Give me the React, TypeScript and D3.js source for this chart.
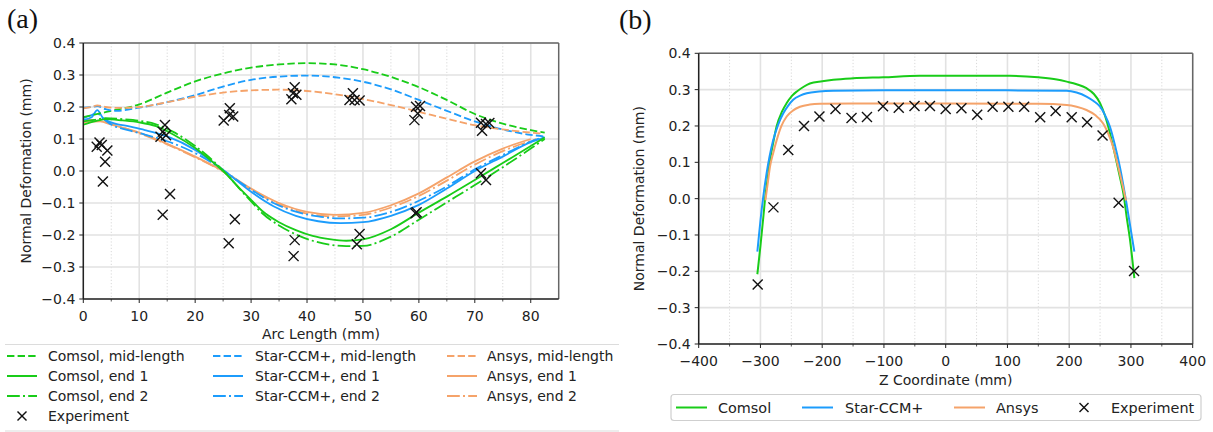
import React from "react";
import * as d3 from "d3";

// ---------- colours ----------
const GREEN = "#19cc19";
const BLUE = "#1c9cfc";
const ORANGE = "#f5a36a";

// ---------- panel (a) data: Arc length (mm) vs normal deformation (mm) ----------
const comsolMidX = [0, 2, 5, 10, 15, 20, 25, 30, 35, 40, 45, 50, 55, 60, 65, 70, 75, 80, 82.5];
const comsolMidY = [0.168, 0.176, 0.188, 0.208, 0.245, 0.28, 0.305, 0.323, 0.333, 0.337, 0.333, 0.318, 0.294, 0.262, 0.222, 0.178, 0.148, 0.128, 0.12];

const starMidX = [0, 1.5, 2.5, 4, 6, 10, 15, 20, 25, 30, 35, 40, 45, 50, 55, 60, 65, 70, 75, 80, 82.5];
const starMidY = [0.198, 0.2, 0.203, 0.193, 0.188, 0.198, 0.215, 0.237, 0.264, 0.285, 0.295, 0.298, 0.293, 0.279, 0.255, 0.222, 0.188, 0.155, 0.13, 0.113, 0.108];

const ansysMidX = [0, 1.5, 2.5, 4, 6, 10, 15, 20, 25, 30, 35, 40, 45, 50, 55, 60, 65, 70, 75, 80, 82];
const ansysMidY = [0.196, 0.2, 0.205, 0.2, 0.197, 0.2, 0.215, 0.232, 0.245, 0.252, 0.254, 0.25, 0.24, 0.225, 0.206, 0.185, 0.163, 0.143, 0.13, 0.12, 0.117];

const comsolEnd1X = [0, 2, 4, 7, 10, 13, 16, 20, 23, 25, 28, 30, 32, 35, 38, 41, 44, 47, 50, 55, 60, 65, 70, 75, 80, 82.5];
const comsolEnd1Y = [0.145, 0.155, 0.162, 0.158, 0.152, 0.14, 0.115, 0.072, 0.03, 0.0, -0.055, -0.09, -0.125, -0.16, -0.185, -0.203, -0.213, -0.218, -0.214, -0.182, -0.13, -0.08, -0.028, 0.025, 0.078, 0.105];

const comsolEnd2X = [0, 2, 4, 7, 10, 13, 16, 20, 23, 25, 28, 30, 32, 35, 38, 41, 44, 47, 50, 55, 60, 65, 70, 75, 80, 82.5];
const comsolEnd2Y = [0.155, 0.16, 0.165, 0.162, 0.157, 0.146, 0.123, 0.078, 0.035, 0.002, -0.057, -0.095, -0.132, -0.17, -0.198, -0.218, -0.23, -0.235, -0.234, -0.205, -0.152, -0.098, -0.044, 0.012, 0.07, 0.1];

const starEnd1X = [0, 1.5, 2.5, 3.5, 5, 8, 11, 15, 20, 23, 26, 30, 34, 38, 42, 46, 50, 55, 60, 65, 70, 75, 80, 82.5];
const starEnd1Y = [0.16, 0.168, 0.19, 0.166, 0.152, 0.14, 0.128, 0.108, 0.066, 0.03, -0.01, -0.065, -0.11, -0.14, -0.157, -0.163, -0.16, -0.14, -0.106, -0.055, 0.0, 0.045, 0.09, 0.105];

const starEnd2X = [0, 1.5, 2.5, 3.5, 5, 8, 11, 15, 20, 23, 26, 30, 34, 38, 42, 46, 50, 55, 60, 65, 70, 75, 80, 82.5];
const starEnd2Y = [0.165, 0.175, 0.18, 0.165, 0.145, 0.128, 0.114, 0.093, 0.056, 0.026, -0.01, -0.058, -0.1, -0.127, -0.142, -0.148, -0.146, -0.128, -0.093, -0.048, 0.005, 0.05, 0.092, 0.108];

const ansysEnd1X = [0, 3, 5, 10, 15, 20, 25, 30, 35, 40, 45, 50, 55, 60, 65, 70, 75, 80];
const ansysEnd1Y = [0.152, 0.155, 0.145, 0.12, 0.085, 0.045, 0.0, -0.055, -0.1, -0.128, -0.137, -0.131, -0.107, -0.07, -0.02, 0.03, 0.07, 0.1];

const ansysEnd2X = [0, 3, 5, 10, 15, 20, 25, 30, 35, 40, 45, 50, 55, 60, 65, 70, 75, 81];
const ansysEnd2Y = [0.16, 0.16, 0.148, 0.118, 0.083, 0.043, -0.002, -0.058, -0.104, -0.133, -0.142, -0.137, -0.114, -0.078, -0.03, 0.02, 0.062, 0.1];

const expArcX = [2.4, 2.9, 3.3, 4.3, 3.9, 3.5, 14.6, 14.2, 13.8, 14.8, 15.5, 14.2, 26.2, 26.1, 26.8, 25.1, 27.1, 26.0, 37.8, 37.5, 38.1, 37.2, 37.8, 37.6, 48.2, 47.6, 48.5, 49.4, 49.4, 48.9, 59.5, 60.2, 59.8, 59.2, 59.4, 59.6, 71.1, 72.0, 71.3, 72.6, 71.1, 72.0];
const expArcY = [0.076, 0.089, 0.081, 0.064, 0.029, -0.033, 0.144, 0.123, 0.107, 0.112, -0.072, -0.137, 0.196, 0.175, 0.17, 0.158, -0.151, -0.226, 0.262, 0.243, 0.238, 0.224, -0.216, -0.266, 0.243, 0.222, 0.222, 0.22, -0.197, -0.229, 0.201, 0.203, 0.18, 0.159, -0.132, -0.129, 0.151, 0.147, 0.126, 0.15, -0.007, -0.028];

// ---------- panel (b) data: Z coordinate (mm) vs normal deformation (mm) ----------
const comsolZX = [-305, -300, -295, -292.5, -288, -284.5, -280, -274, -265, -257.5, -249, -241, -230, -220, -200, -182, -150, -101, -42, 0, 50, 104, 150, 180, 196, 212, 228, 240, 250, 258, 266, 274, 282, 288, 293, 299, 305.5];
const comsolZY = [-0.208, -0.13, -0.045, 0.0, 0.06, 0.107, 0.148, 0.198, 0.24, 0.263, 0.283, 0.295, 0.308, 0.317, 0.323, 0.327, 0.331, 0.334, 0.338, 0.338, 0.338, 0.338, 0.334, 0.328, 0.322, 0.315, 0.304, 0.288, 0.263, 0.228, 0.18, 0.122, 0.06, 0.012, -0.05, -0.12, -0.219];

const starZX = [-305, -298, -290, -279.5, -271, -263, -255, -247, -235, -225, -205, -182, -100, 0, 100, 196, 212, 228, 240, 250, 258, 266, 274, 282, 293, 305.5];
const starZY = [-0.146, -0.03, 0.07, 0.16, 0.205, 0.235, 0.256, 0.272, 0.284, 0.29, 0.295, 0.297, 0.298, 0.298, 0.298, 0.297, 0.292, 0.281, 0.268, 0.253, 0.23, 0.198, 0.148, 0.088, -0.015, -0.146];

const ansysZX = [-292, -288, -284.5, -279, -273.7, -266, -257.5, -247, -236, -220, -203.5, -150, 0, 150, 196, 212, 228, 242, 255, 263, 271, 279, 287, 292];
const ansysZY = [-0.005, 0.045, 0.088, 0.128, 0.161, 0.2, 0.226, 0.243, 0.253, 0.259, 0.261, 0.262, 0.262, 0.261, 0.258, 0.253, 0.244, 0.23, 0.207, 0.18, 0.143, 0.09, 0.033, -0.005];

const expZX = [-304.5, -279, -255, -229.5, -204.5, -178.5, -152.5, -127.5, -101.5, -76, -50.5, -25.5, 0, 25.5, 51, 76, 101.5, 127, 153, 178, 204, 229, 254, 280, 305];
const expZY = [-0.236, -0.024, 0.134, 0.2, 0.226, 0.247, 0.222, 0.225, 0.254, 0.25, 0.255, 0.255, 0.247, 0.249, 0.231, 0.253, 0.253, 0.253, 0.224, 0.241, 0.224, 0.21, 0.174, -0.011, -0.199];

// ---------- ticks ----------
const yTicks = [-0.4, -0.3, -0.2, -0.1, 0.0, 0.1, 0.2, 0.3, 0.4];
const xTicksA = [0, 10, 20, 30, 40, 50, 60, 70, 80];
const xMinorA = [5, 15, 25, 35, 45, 55, 65, 75];
const xTicksB = [-400, -300, -200, -100, 0, 100, 200, 300, 400];
const xMinorB = [-350, -250, -150, -50, 50, 150, 250, 350];

const FONT = "'DejaVu Sans', sans-serif";
const DASHED = "7.4,3.2";
const DASHDOT = "12.8,3.2,2,3.2";

const fmtY = (v: number) => d3.format(".1f")(v).replace("-", "\u2212");
const fmtX = (v: number) => String(v).replace("-", "\u2212");

type Series = { xs: number[]; ys: number[]; color: string; dash?: string };

function zip(xs: number[], ys: number[]): [number, number][] {
  return xs.map((x, i) => [x, ys[i]]);
}

function Cross({ cx, cy, s = 5 }: { cx: number; cy: number; s?: number }) {
  return (
    <g stroke="#111" strokeWidth={1.4}>
      <line x1={cx - s} y1={cy - s} x2={cx + s} y2={cy + s} />
      <line x1={cx - s} y1={cy + s} x2={cx + s} y2={cy - s} />
    </g>
  );
}

function Panel(props: {
  id: string;
  x: d3.ScaleLinear<number, number>;
  y: d3.ScaleLinear<number, number>;
  xTicks: number[];
  xMinor: number[];
  series: Series[];
  expX: number[];
  expY: number[];
  xLabel: string;
  yLabelX: number;
  xLabelY: number;
  lw: number;
}) {
  const { id, x, y, xTicks, xMinor, series, expX, expY, xLabel, yLabelX, xLabelY, lw } = props;
  const [x0, x1] = x.range();
  const [y0, y1] = y.range(); // y0 bottom, y1 top
  const line = d3
    .line<[number, number]>()
    .x((d) => x(d[0]))
    .y((d) => y(d[1]))
    .curve(d3.curveMonotoneX);
  return (
    <g>
      <defs>
        <clipPath id={id}>
          <rect x={x0} y={y1} width={x1 - x0} height={y0 - y1} />
        </clipPath>
      </defs>
      {xMinor.map((t) => (
        <line key={"mg" + t} x1={x(t)} x2={x(t)} y1={y1} y2={y0} stroke="#d8d8d8" strokeWidth={1} strokeDasharray="1.2,2" />
      ))}
      {xTicks.map((t) => (
        <line key={"gx" + t} x1={x(t)} x2={x(t)} y1={y1} y2={y0} stroke="#e2e2e2" strokeWidth={1.6} />
      ))}
      {yTicks.map((t) => (
        <line key={"gy" + t} x1={x0} x2={x1} y1={y(t)} y2={y(t)} stroke="#e2e2e2" strokeWidth={1.6} />
      ))}
      <g clipPath={`url(#${id})`}>
        {series.map((s, i) => (
          <path
            key={i}
            d={line(zip(s.xs, s.ys)) || ""}
            fill="none"
            stroke={s.color}
            strokeWidth={lw}
            strokeDasharray={s.dash}
          />
        ))}
        {expX.map((v, i) => (
          <Cross key={"e" + i} cx={x(v)} cy={y(expY[i])} />
        ))}
      </g>
      <line x1={x0} x2={x1} y1={y1} y2={y1} stroke="#666" strokeWidth={1.5} />
      <line x1={x1} x2={x1} y1={y1} y2={y0} stroke="#666" strokeWidth={1.5} />
      <line x1={x0} x2={x0} y1={y1} y2={y0} stroke="#222" strokeWidth={1.5} />
      <line x1={x0} x2={x1} y1={y0} y2={y0} stroke="#222" strokeWidth={1.5} />
      {xTicks.map((t) => (
        <g key={"tx" + t}>
          <line x1={x(t)} x2={x(t)} y1={y0} y2={y0 + 4} stroke="#222" strokeWidth={1} />
          <text x={x(t)} y={y0 + 22} fontSize={14} fontFamily={FONT} textAnchor="middle" fill="#222">
            {fmtX(t)}
          </text>
        </g>
      ))}
      {xMinor.map((t) => (
        <line key={"mt" + t} x1={x(t)} x2={x(t)} y1={y0} y2={y0 + 2.5} stroke="#222" strokeWidth={0.8} />
      ))}
      {yTicks.map((t) => (
        <g key={"ty" + t}>
          <line x1={x0 - 4} x2={x0} y1={y(t)} y2={y(t)} stroke="#222" strokeWidth={1} />
          <text x={x0 - 8} y={y(t) + 5} fontSize={14} fontFamily={FONT} textAnchor="end" fill="#222">
            {fmtY(t)}
          </text>
        </g>
      ))}
      <text x={(x0 + x1) / 2} y={xLabelY} fontSize={14} fontFamily={FONT} textAnchor="middle" fill="#222">
        {xLabel}
      </text>
      <text
        transform={`translate(${yLabelX},${(y0 + y1) / 2}) rotate(-90)`}
        fontSize={14}
        fontFamily={FONT}
        textAnchor="middle"
        dominantBaseline="central"
        fill="#222"
      >
        Normal Deformation (mm)
      </text>
    </g>
  );
}

const legendALabels = [
  ["Comsol, mid-length", "Star-CCM+, mid-length", "Ansys, mid-length"],
  ["Comsol, end 1", "Star-CCM+, end 1", "Ansys, end 1"],
  ["Comsol, end 2", "Star-CCM+, end 2", "Ansys, end 2"],
];
const legendAColors = [GREEN, BLUE, ORANGE];
const legendADash = [DASHED, undefined, DASHDOT];
const legendBLabels = ["Comsol", "Star-CCM+", "Ansys"];
const legendBColors = [GREEN, BLUE, ORANGE];

export default function App() {
  const xA = d3.scaleLinear().domain([0, 85]).range([83.3, 558.7]);
  const yA = d3.scaleLinear().domain([-0.4, 0.4]).range([299, 43]);
  const xB = d3.scaleLinear().domain([-400, 400]).range([698.7, 1192.7]);
  const yB = d3.scaleLinear().domain([-0.4, 0.4]).range([344, 53.3]);

  const seriesA: Series[] = [
    { xs: ansysEnd2X, ys: ansysEnd2Y, color: ORANGE, dash: DASHDOT },
    { xs: ansysEnd1X, ys: ansysEnd1Y, color: ORANGE },
    { xs: starEnd2X, ys: starEnd2Y, color: BLUE, dash: DASHDOT },
    { xs: starEnd1X, ys: starEnd1Y, color: BLUE },
    { xs: comsolEnd2X, ys: comsolEnd2Y, color: GREEN, dash: DASHDOT },
    { xs: comsolEnd1X, ys: comsolEnd1Y, color: GREEN },
    { xs: comsolMidX, ys: comsolMidY, color: GREEN, dash: DASHED },
    { xs: starMidX, ys: starMidY, color: BLUE, dash: DASHED },
    { xs: ansysMidX, ys: ansysMidY, color: ORANGE, dash: DASHED },
  ];
  const seriesB: Series[] = [
    { xs: comsolZX, ys: comsolZY, color: GREEN },
    { xs: starZX, ys: starZY, color: BLUE },
    { xs: ansysZX, ys: ansysZY, color: ORANGE },
  ];

  const colA = [7, 213, 447];
  const colAText = [48, 255, 487];
  const rowA = [356, 376, 396, 416];

  const handleB = [676, 802, 954];
  const textB = [718, 845, 996];

  return (
    <svg
      width={1213}
      height={432}
      style={{ display: "block", position: "absolute", left: 0, top: 0, background: "#fff" }}
    >
      <text x={7} y={28} fontSize={28} fontFamily="'Liberation Serif', 'Times New Roman', serif" fill="#111">
        (a)
      </text>
      <text x={619} y={29} fontSize={28} fontFamily="'Liberation Serif', 'Times New Roman', serif" fill="#111">
        (b)
      </text>

      <Panel
        id="clipA"
        x={xA}
        y={yA}
        xTicks={xTicksA}
        xMinor={xMinorA}
        series={seriesA}
        expX={expArcX}
        expY={expArcY}
        xLabel="Arc Length (mm)"
        yLabelX={26}
        xLabelY={339}
        lw={1.8}
      />
      <Panel
        id="clipB"
        x={xB}
        y={yB}
        xTicks={xTicksB}
        xMinor={xMinorB}
        series={seriesB}
        expX={expZX}
        expY={expZY}
        xLabel="Z Coordinate (mm)"
        yLabelX={639}
        xLabelY={385}
        lw={2}
      />

      <line x1={5} x2={619} y1={344.5} y2={344.5} stroke="#dcdcdc" strokeWidth={1.2} />
      <line x1={5} x2={619} y1={431} y2={431} stroke="#dcdcdc" strokeWidth={1.2} />
      {legendALabels.map((row, r) =>
        row.map((label, c) => (
          <g key={`la${r}${c}`}>
            <line
              x1={colA[c]}
              x2={colA[c] + 30}
              y1={rowA[r]}
              y2={rowA[r]}
              stroke={legendAColors[c]}
              strokeWidth={2}
              strokeDasharray={legendADash[r]}
            />
            <text x={colAText[c]} y={rowA[r] + 5} fontSize={14} fontFamily={FONT} fill="#222">
              {label}
            </text>
          </g>
        ))
      )}
      <Cross cx={22} cy={rowA[3]} s={4.5} />
      <text x={colAText[0]} y={rowA[3] + 5} fontSize={14} fontFamily={FONT} fill="#222">
        Experiment
      </text>

      <rect x={671} y={394.5} width={530} height={26} rx={3} fill="#fff" stroke="#cfcfcf" strokeWidth={1.2} />
      {legendBLabels.map((label, i) => (
        <g key={"lb" + i}>
          <line x1={handleB[i]} x2={handleB[i] + 31} y1={407.5} y2={407.5} stroke={legendBColors[i]} strokeWidth={2} />
          <text x={textB[i]} y={412.5} fontSize={14.4} fontFamily={FONT} fill="#222">
            {label}
          </text>
        </g>
      ))}
      <Cross cx={1084} cy={407.5} s={4.5} />
      <text x={1111} y={412.5} fontSize={14.4} fontFamily={FONT} fill="#222">
        Experiment
      </text>
    </svg>
  );
}
